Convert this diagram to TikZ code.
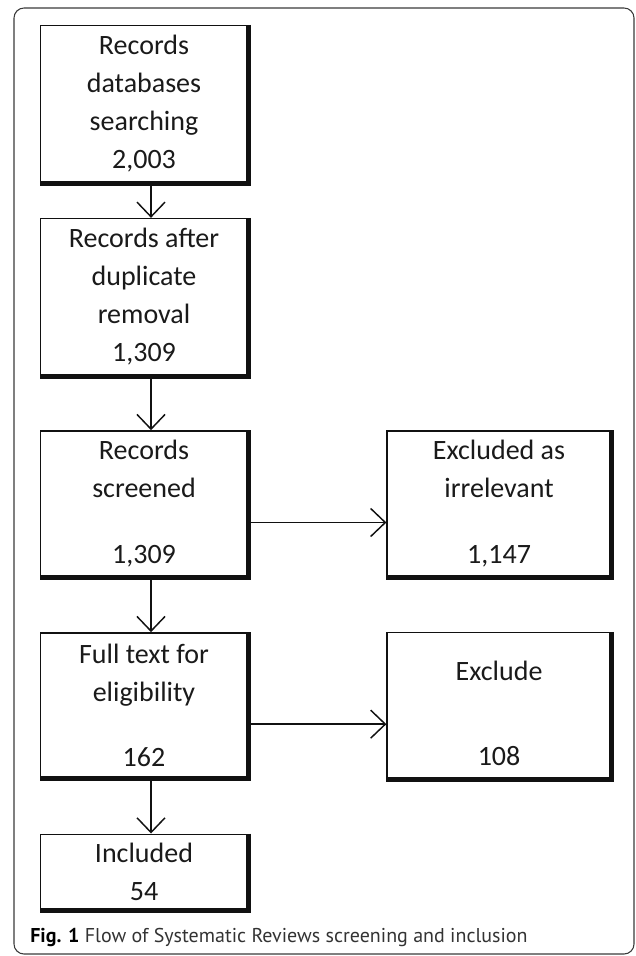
\documentclass[tikz,border=0pt]{standalone}
\usepackage{fontspec}
\setmainfont{Carlito}
\newfontfamily\boxfont{Carlito}
\newfontfamily\captionfont{PT Sans}
\usepackage{xcolor}
\definecolor{boxLine}{HTML}{111111}
\definecolor{darkText}{HTML}{1A1A1A}
\definecolor{frameGray}{HTML}{3A3A3A}
\definecolor{captionText}{HTML}{333333}
\usepackage{tikz}
\usetikzlibrary{
    arrows.meta,
    positioning
}
\tikzset{
    % Flow box: thin outline, text set in Calibri-like face
    flowbox/.style={
        draw=boxLine,
        line width=1pt,
        fill=white,
        align=center,
        text=darkText,
        font=\boxfont\fontsize{21}{28.5}\selectfont,
        inner sep=0pt,
        minimum width=155.6pt,
    },
    % Boxes on the right for the excluded records
    sidebox/.style={
        flowbox,
        minimum width=168pt,
        minimum height=109.5pt,
    },
    % Heavy right and bottom edge of every box
    heavy edge/.style={
        draw=boxLine,
        line width=3.75pt,
        line join=miter,
    },
    % Straight connector with open barb
    arrow/.style={
        -{Straight Barb[length=11pt, width=21pt]},
        line width=1.1pt,
        draw=boxLine,
    },
    % Rounded frame round the figure
    frame/.style={
        draw=frameGray,
        line width=0.8pt,
        rounded corners=7.5pt,
    },
}

\begin{document}
\begin{tikzpicture}[x=0.75pt, y=-0.75pt]
    \useasboundingbox (0,0) rectangle (635,956);
    \draw[frame] (14,8) rectangle (634,954);

    \node (search) [flowbox, minimum height=117.75pt] at (144,104)
        {Records\\databases\\searching\\2,003};
    \node (dedup) [flowbox, minimum height=117.75pt, below=26pt of search]
        {Records after\\duplicate\\removal\\1,309};
    \node (screened) [flowbox, minimum height=109.5pt, below=40.5pt of dedup]
        {Records\\screened\\[21pt]1,309};
    \node (fulltext) [flowbox, minimum height=109pt, below=41pt of screened]
        {Full text for\\eligibility\\[20pt]162};
    \node (included) [flowbox, minimum height=57pt, below=41pt of fulltext]
        {Included\\54};

    \node (irrelevant) [sidebox, right=103.5pt of screened]
        {Excluded as\\irrelevant\\[21pt]1,147};
    \node (exclude) [sidebox, right=103.5pt of fulltext]
        {\rule{0pt}{26pt}Exclude\\[35pt]108};

    % heavy right/bottom edges
    \foreach \n in {search,dedup,screened,fulltext,included,irrelevant,exclude}
        \draw[heavy edge] (\n.north east) -- (\n.south east) -- (\n.south west);

    \draw [arrow] ([xshift=5.25pt]search.south) -- ([xshift=5.25pt]dedup.north);
    \draw [arrow] ([xshift=5.25pt]dedup.south) -- ([xshift=5.25pt]screened.north);
    \draw [arrow] ([xshift=5.25pt]screened.south) -- ([xshift=5.25pt]fulltext.north);
    \draw [arrow] ([xshift=5.25pt]fulltext.south) -- ([xshift=5.25pt]included.north);
    \draw [arrow] ([yshift=-14pt]screened.east) -- ([yshift=-14pt]irrelevant.west);
    \draw [arrow] ([yshift=-14pt]fulltext.east) -- ([yshift=-14pt]exclude.west);

    \node (caption) [anchor=west, inner sep=0pt, text=captionText,
        font=\captionfont\fontsize{15}{18}\selectfont] at (30,937)
        {\textbf{\color{black}Fig. 1} Flow of Systematic Reviews screening and inclusion};
\end{tikzpicture}
\end{document}
